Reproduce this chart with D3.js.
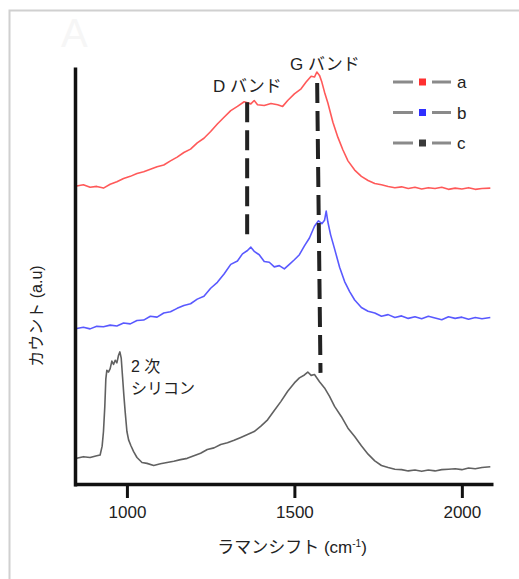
<!DOCTYPE html>
<html>
<head>
<meta charset="utf-8">
<script src="https://cdn.jsdelivr.net/npm/d3@7"></script>
<style>
  body { margin: 0; background: #fff; }
  svg text { font-family: "Liberation Sans", "Noto Sans CJK JP", sans-serif; fill: #222; }
</style>
</head>
<body>
<div id="chart"></div>
<script>
// spectra (x = Raman shift cm-1, y = counts a.u.)
var shiftA = [850,870,890,910,930,950,970,990,1010,1030,1050,1070,1090,1110,1130,1150,1170,1190,1210,1230,1250,1270,1290,1310,1330,1350,1370,1380,1390,1410,1430,1450,1465,1480,1500,1520,1535,1550,1560,1567,1575,1582,1590,1600,1615,1630,1645,1660,1680,1700,1720,1740,1760,1780,1800,1820,1840,1860,1880,1900,1920,1940,1960,1980,2000,2020,2040,2060,2085];
var countA = [71.6,71.9,71.3,71.5,71.1,72.0,72.6,73.4,73.9,74.6,75.0,75.6,76.2,76.6,77.6,78.5,79.6,80.4,81.9,83.0,84.6,86.4,88.0,89.6,90.6,91.7,91.2,92.0,91.0,90.8,91.3,91.0,90.6,92.0,93.6,94.8,96.4,97.8,97.6,98.8,98.0,96.4,94.0,91.4,86.8,83.2,80.2,77.6,75.4,73.9,72.9,72.2,71.9,71.5,71.2,71.4,71.0,71.3,70.9,71.2,71.0,71.3,70.8,71.1,70.9,71.2,70.8,71.0,71.1];

var shiftB = [850,870,890,910,930,950,970,990,1010,1030,1050,1070,1090,1110,1130,1150,1170,1190,1210,1230,1250,1270,1290,1310,1330,1345,1360,1370,1380,1395,1410,1425,1440,1455,1470,1485,1500,1515,1530,1545,1560,1572,1582,1590,1595,1600,1608,1620,1635,1650,1665,1680,1700,1720,1740,1760,1780,1800,1820,1840,1860,1880,1900,1920,1940,1960,1980,2000,2020,2040,2060,2085];
var countB = [37.6,37.9,37.5,38.1,38.0,38.4,38.2,38.9,38.7,39.5,39.6,40.5,40.3,41.3,41.6,42.4,43.1,43.5,44.6,45.3,47.2,48.6,50.6,52.9,53.7,55.4,56.2,57.0,56.0,55.2,53.6,53.4,52.3,52.6,51.8,52.9,54.0,55.2,57.3,59.2,62.0,63.3,62.6,63.4,65.6,63.0,60.0,56.6,52.2,48.8,46.4,44.4,42.6,41.7,41.3,40.5,40.9,40.2,40.6,40.0,40.4,39.9,40.5,40.1,39.7,40.4,40.0,40.3,39.8,40.2,39.9,40.2];

var shiftC = [850,870,890,910,920,926,930,934,937,940,945,950,955,960,965,970,975,979,983,987,991,995,1000,1005,1012,1020,1030,1045,1060,1080,1100,1120,1140,1160,1180,1200,1220,1240,1260,1280,1300,1320,1340,1360,1380,1400,1420,1440,1460,1480,1500,1515,1530,1540,1550,1560,1575,1590,1605,1620,1640,1660,1680,1700,1720,1740,1760,1780,1800,1820,1840,1860,1880,1900,1920,1940,1960,1980,2000,2020,2040,2060,2085];
var countC = [6.6,7.0,6.8,7.2,7.4,9.5,13.0,19.0,25.5,27.6,27.2,28.0,29.8,29.0,30.0,29.4,31.2,32.0,30.5,26.0,21.5,17.5,13.0,11.0,9.6,8.2,6.8,5.6,5.4,4.9,5.3,5.6,5.9,6.3,6.6,7.2,7.8,8.7,9.1,9.9,10.3,10.9,11.6,12.3,13.0,14.3,15.8,18.0,20.2,22.6,24.6,25.8,26.5,27.2,26.4,26.6,24.9,23.4,21.4,19.0,16.6,13.8,11.8,9.6,7.6,6.0,4.9,4.4,4.0,3.9,3.6,3.8,3.5,3.8,3.6,3.9,4.0,4.1,3.9,4.3,4.1,4.4,4.6];

var seriesNames = ["a", "b", "c"];
var seriesColors = ["#ff3030", "#2f2fff", "#3a3a3a"];
var xTicks = [1000, 1500, 2000];

// dashed band markers
var bandNames = ["D バンド", "G バンド"];
var bandShiftTop = [1359, 1568];
var bandShiftBottom = [1359, 1578];
var bandTop = [91.6, 96.2];
var bandBottom = [58.2, 27.0];

var width = 519, height = 579;
var margin = { top: 67, right: 26, bottom: 93, left: 74 };

var svg = d3.select("#chart").append("svg")
    .attr("width", width)
    .attr("height", height);

// light frame around the figure
svg.append("rect")
    .attr("x", 9.5).attr("y", 10.5)
    .attr("width", 520).attr("height", 580)
    .attr("fill", "none")
    .attr("stroke", "#d0d0d0")
    .attr("stroke-width", 2);

svg.append("text")
    .attr("x", 61).attr("y", 47)
    .attr("font-size", 40)
    .style("fill", "#f6f6f6")
    .text("A");

var xScale = d3.scaleLinear()
    .domain([842, 2093])
    .range([margin.left, width - margin.right]);

var yScale = d3.scaleLinear()
    .domain([0, 100])
    .range([486, margin.top]);

var line = d3.line()
    .x(function(d){ return xScale(d[0]) })
    .y(function(d){ return yScale(d[1]) });

var spectra = [d3.zip(shiftA, countA), d3.zip(shiftB, countB), d3.zip(shiftC, countC)];

svg.selectAll(".spectrum")
    .data(spectra)
    .enter().append("path")
    .attr("class", "spectrum")
    .attr("d", line)
    .attr("fill", "none")
    .attr("stroke", function(d, i){ return seriesColors[i] })
    .attr("stroke-width", 1.6)
    .attr("stroke-opacity", 0.8)
    .attr("stroke-linejoin", "round");

// band markers
svg.selectAll(".band")
    .data(bandNames)
    .enter().append("line")
    .attr("class", "band")
    .attr("x1", function(d, i){ return xScale(bandShiftTop[i]) })
    .attr("x2", function(d, i){ return xScale(bandShiftBottom[i]) })
    .attr("y1", function(d, i){ return yScale(bandTop[i]) })
    .attr("y2", function(d, i){ return yScale(bandBottom[i]) })
    .attr("stroke", "#222")
    .attr("stroke-width", 4)
    .attr("stroke-dasharray", "20,8");

svg.append("text").attr("x", 213).attr("y", 92).attr("font-size", 17).text(bandNames[0]);
svg.append("text").attr("x", 290).attr("y", 70).attr("font-size", 17).text(bandNames[1]);
svg.append("text").attr("x", 131).attr("y", 372).attr("font-size", 16).text("2 次");
svg.append("text").attr("x", 131).attr("y", 394).attr("font-size", 16).text("シリコン");

// axes
var xAxis = svg.append("g")
    .attr("class", "Xaxis")
    .attr("transform", "translate(0,484)")
    .call(d3.axisBottom(xScale).tickValues(xTicks).tickFormat(d3.format("d")).tickSize(14).tickSizeOuter(0).tickPadding(8));

var yAxis = svg.append("g")
    .attr("class", "Yaxis")
    .attr("transform", "translate(75,0)")
    .call(d3.axisLeft(yScale).tickValues([]).tickSizeOuter(0));

svg.selectAll(".Xaxis .domain, .Yaxis .domain")
    .attr("stroke", "#111")
    .attr("stroke-width", 3.5);
xAxis.selectAll(".tick line").attr("stroke", "#111").attr("stroke-width", 3);
xAxis.selectAll(".tick text")
    .attr("font-size", 17)
    .style("fill", "#222")
    .style("font-family", "'Liberation Sans', sans-serif");

svg.append("text")
    .attr("x", 292).attr("y", 553)
    .attr("text-anchor", "middle")
    .attr("font-size", 17)
    .html("ラマンシフト (cm<tspan font-size='10' dy='-6'>-1</tspan><tspan dy='6'>)</tspan>");

svg.append("text")
    .attr("transform", "translate(42,316) rotate(-90)")
    .attr("text-anchor", "middle")
    .attr("font-size", 16)
    .text("カウント (a.u)");

// legend
var legend = svg.selectAll(".legend")
    .data(seriesNames)
    .enter().append("g")
    .attr("class", "legend")
    .attr("transform", function(d, i){ return "translate(393," + (82 + i * 30.5) + ")" });

legend.append("line").attr("x1", 0).attr("x2", 20).attr("stroke", "#8a8a8a").attr("stroke-width", 3);
legend.append("line").attr("x1", 39).attr("x2", 58).attr("stroke", "#8a8a8a").attr("stroke-width", 3);
legend.append("rect")
    .attr("x", 26).attr("y", -3.5)
    .attr("width", 7).attr("height", 7)
    .attr("fill", function(d, i){ return seriesColors[i] });
legend.append("text")
    .attr("x", 64).attr("y", 6)
    .attr("font-size", 17)
    .text(function(d){ return d });
</script>
</body>
</html>
